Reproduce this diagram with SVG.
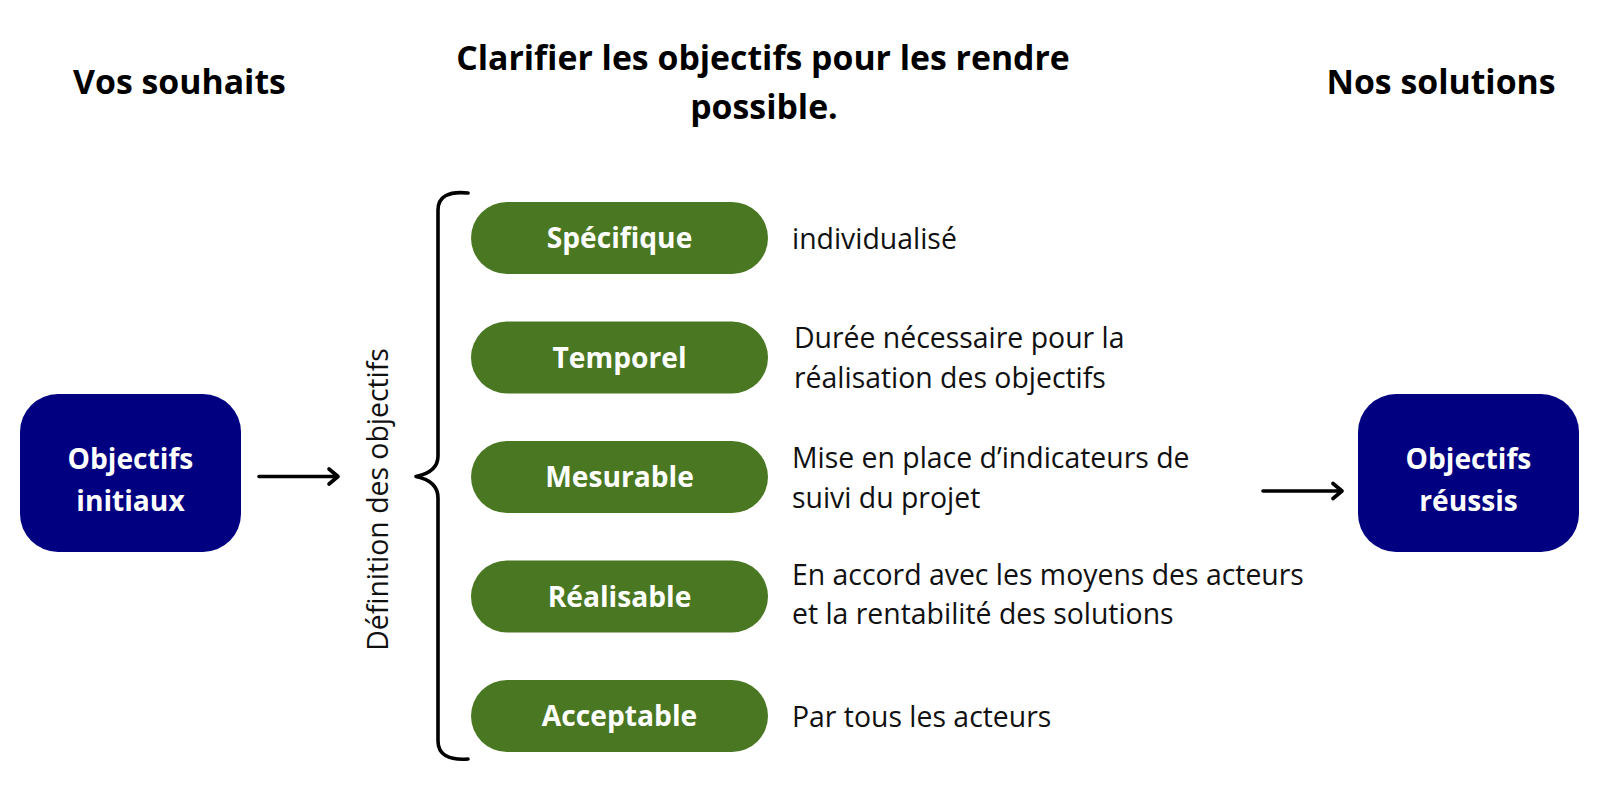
<svg xmlns="http://www.w3.org/2000/svg" width="1600" height="800" viewBox="0 0 1600 800">
<defs>
<style>
.hdr{font-family:"Open Sans","Noto Sans","Liberation Sans",sans-serif;font-weight:700;font-size:33.8px;fill:#000;text-anchor:middle}
.box{fill:#000080}
.pill{fill:#4a7722}
.lbl{font-family:"Open Sans","Noto Sans","Liberation Sans",sans-serif;font-weight:700;font-size:28.2px;fill:#fff;text-anchor:middle}
.desc{font-family:"Open Sans","Noto Sans","Liberation Sans",sans-serif;font-size:28.4px;fill:#111}
.conn{stroke:#000;stroke-width:3.6;fill:none;stroke-linecap:round;stroke-linejoin:round}
</style>
</defs>
<rect width="1600" height="800" fill="#fff"/>
<g id="headers">
<text class="hdr" x="179.5" y="94">Vos souhaits</text>
<text class="hdr" x="763" y="70">Clarifier les objectifs pour les rendre</text>
<text class="hdr" x="764" y="119">possible.</text>
<text class="hdr" x="1441" y="94">Nos solutions</text>
</g>
<g id="node-initiaux">
<rect class="box" x="20" y="394" width="221" height="158" rx="38"/>
<text class="lbl" x="130.5" y="469">Objectifs</text>
<text class="lbl" x="130.5" y="511">initiaux</text>
</g>
<g id="node-reussis">
<rect class="box" x="1358" y="394" width="221" height="158" rx="38"/>
<text class="lbl" x="1468.5" y="469">Objectifs</text>
<text class="lbl" x="1468.5" y="511">réussis</text>
</g>
<g id="brace-label">
<text class="desc" transform="translate(388,499.5) rotate(-90)" text-anchor="middle">Définition des objectifs</text>
</g>
<g id="node-specifique">
<rect class="pill" x="471" y="202" width="297" height="72" rx="36"/>
<text class="lbl" x="619.5" y="248">Spécifique</text>
<text class="desc" x="792" y="249">individualisé</text>
</g>
<g id="node-temporel">
<rect class="pill" x="471" y="321.5" width="297" height="72" rx="36"/>
<text class="lbl" x="619.5" y="367.5">Temporel</text>
<text class="desc" x="794" y="348">Durée nécessaire pour la</text>
<text class="desc" x="794" y="388">réalisation des objectifs</text>
</g>
<g id="node-mesurable">
<rect class="pill" x="471" y="441" width="297" height="72" rx="36"/>
<text class="lbl" x="619.5" y="487">Mesurable</text>
<text class="desc" x="792" y="468">Mise en place d’indicateurs de</text>
<text class="desc" x="792" y="508">suivi du projet</text>
</g>
<g id="node-realisable">
<rect class="pill" x="471" y="560.5" width="297" height="72" rx="36"/>
<text class="lbl" x="619.5" y="606.5">Réalisable</text>
<text class="desc" x="792" y="584.5">En accord avec les moyens des acteurs</text>
<text class="desc" x="792" y="624">et la rentabilité des solutions</text>
</g>
<g id="node-acceptable">
<rect class="pill" x="471" y="680" width="297" height="72" rx="36"/>
<text class="lbl" x="619.5" y="726">Acceptable</text>
<text class="desc" x="792" y="727">Par tous les acteurs</text>
</g>
<g id="connectors">
<path class="conn" d="M259,476.5 H337 M329,469 L338,476.5 L329,484"/>
<path class="conn" d="M1263,491 H1341 M1333,483.5 L1342,491 L1333,498.5"/>
<path class="conn" stroke-width="3.3" d="M468,193 Q438,190 438,210 L438,456 Q438,472 416,476.5 Q438,481 438,498 L438,741 Q438,761 468,759"/>
</g>
</svg>
